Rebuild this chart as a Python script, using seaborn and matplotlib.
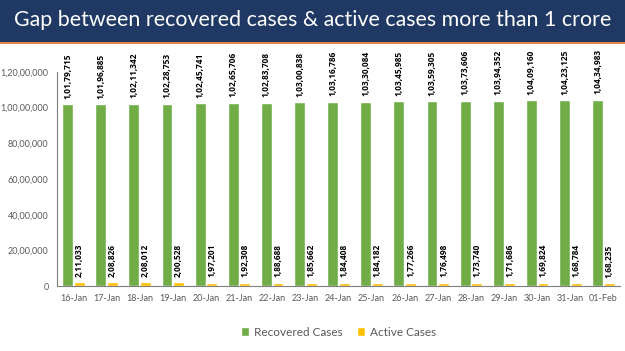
import pandas as pd
import numpy as np
import seaborn as sns
import matplotlib.pyplot as plt
from matplotlib.patches import Rectangle
from matplotlib.ticker import FuncFormatter

dates = ['16-Jan', '17-Jan', '18-Jan', '19-Jan', '20-Jan', '21-Jan', '22-Jan', '23-Jan',
         '24-Jan', '25-Jan', '26-Jan', '27-Jan', '28-Jan', '29-Jan', '30-Jan', '31-Jan', '01-Feb']
recovered = [10179715, 10196885, 10211342, 10228753, 10245741, 10265706, 10283708, 10300838,
             10316786, 10330084, 10345985, 10359305, 10373606, 10394352, 10409160, 10423125, 10434983]
active = [211033, 208826, 208012, 200528, 197201, 192308, 188688, 185662,
          184408, 184182, 177266, 176498, 173740, 171686, 169824, 168784, 168235]


def indian_fmt(v):
    s = str(int(round(v)))
    if len(s) <= 3:
        return s
    head, tail = s[:-3], s[-3:]
    parts = []
    while len(head) > 2:
        parts.insert(0, head[-2:])
        head = head[:-2]
    if head:
        parts.insert(0, head)
    return ','.join(parts) + ',' + tail


df = pd.DataFrame({
    'date': dates * 2,
    'value': recovered + active,
    'series': ['Recovered Cases'] * len(dates) + ['Active Cases'] * len(dates),
})

sns.set_style('white')
plt.rcParams['font.family'] = ['Lato', 'DejaVu Sans']

fig = plt.figure(figsize=(6.25, 3.51), dpi=100)
ax = fig.add_axes([0.091, 0.185, 0.901, 0.61])

# title banner
fig.patches.append(Rectangle((0, 0.88), 1, 0.12, transform=fig.transFigure,
                             facecolor='#1f3864', edgecolor='none', zorder=0))
fig.patches.append(Rectangle((0, 0.876), 1, 0.005, transform=fig.transFigure,
                             facecolor='#e2844a', edgecolor='none', zorder=0))
fig.text(0.5, 0.942, 'Gap between recovered cases & active cases more than 1 crore',
         color='white', fontsize=15.4, ha='center', va='center')

sns.barplot(data=df, x='date', y='value', hue='series', ax=ax,
            palette={'Recovered Cases': '#70ad47', 'Active Cases': '#ffc000'},
            width=0.7, gap=0.06, saturation=1, legend=True)

ax.set_ylim(0, 12000000)
ax.set_yticks(np.arange(0, 12000001, 2000000))
ax.yaxis.set_major_formatter(FuncFormatter(lambda v, p: indian_fmt(v)))
ax.set_xlabel('')
ax.set_ylabel('')
ax.tick_params(axis='y', labelsize=6.5, labelcolor='#595959', length=0, pad=6)
ax.tick_params(axis='x', labelsize=6.5, labelcolor='#595959', length=0, pad=6)
ax.set_xlim(-0.5, len(dates) - 0.5)
ax.set_xticks(np.arange(-0.5, len(dates), 1), minor=True)
ax.tick_params(axis='x', which='minor', length=3, color='#7f7f7f', width=0.8)

for side in ['top', 'right']:
    ax.spines[side].set_visible(False)
for side in ['left', 'bottom']:
    ax.spines[side].set_color('#7f7f7f')
    ax.spines[side].set_linewidth(0.8)

# value labels above every bar
for cont in ax.containers:
    for bar in cont:
        h = bar.get_height()
        ax.annotate(indian_fmt(h), (bar.get_x() + bar.get_width() / 2, h),
                    xytext=(0, 4), textcoords='offset points', rotation=90,
                    ha='center', va='bottom', fontsize=6, fontweight='bold',
                    family=['Open Sans', 'DejaVu Sans'],
                    color='black', annotation_clip=False)

leg = ax.legend(loc='upper center', bbox_to_anchor=(0.5, -0.14), ncol=2, frameon=False,
                fontsize=8.5, handlelength=0.7, handleheight=0.7, columnspacing=1.2,
                handletextpad=0.4)
for t in leg.get_texts():
    t.set_color('#595959')

fig.savefig('out.png', dpi=100)
